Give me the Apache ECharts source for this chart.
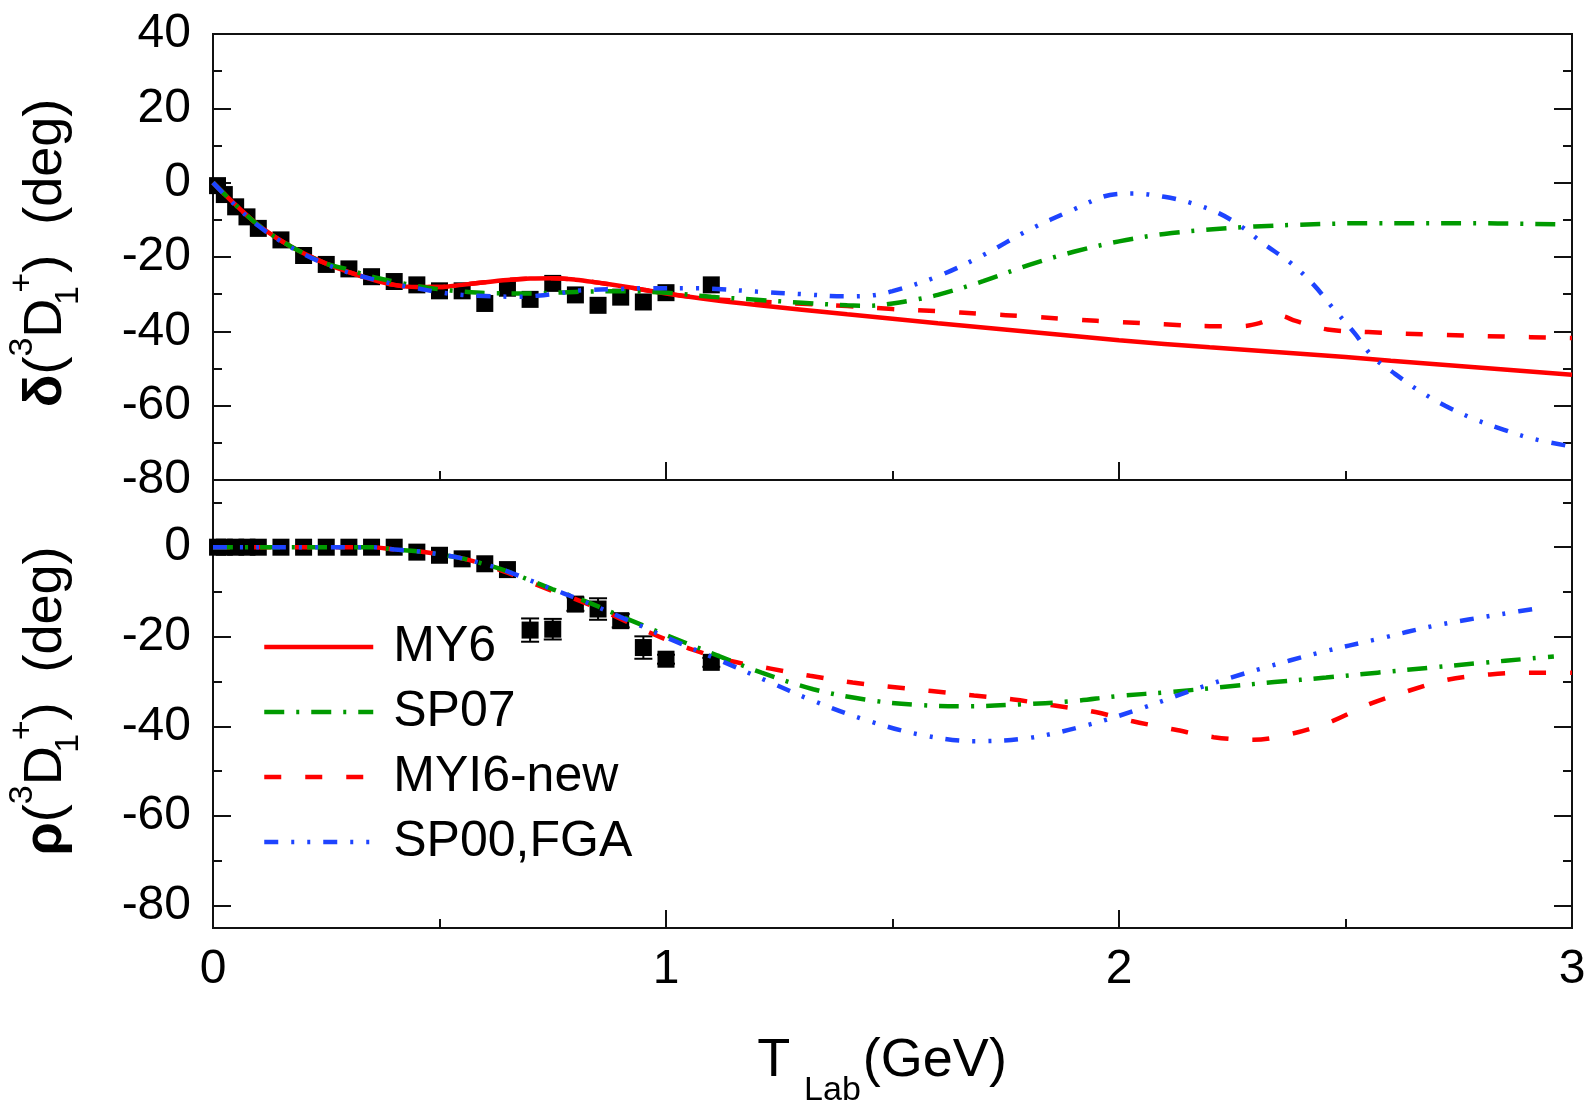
<!DOCTYPE html>
<html><head><meta charset="utf-8">
<script src="https://cdn.jsdelivr.net/npm/echarts@6/dist/echarts.min.js"></script>
<style>html,body{margin:0;padding:0;background:#fff}#c{width:1592px;height:1105px}</style>
</head><body><div id="c"></div>
<script>
const FONT = '"Liberation Sans", Arial, sans-serif';

// ---- axis ticks ----
const xTickLabels = [0, 1, 2, 3];
const topYTicks = [40, 20, 0, -20, -40, -60, -80];
const botYMajor = [0, -20, -40, -60, -80];
const botYMinor = [10, -10, -30, -50, -70];

// ---- experimental points ----
const dataX = [0.01,0.025,0.05,0.075,0.1,0.15,0.2,0.25,0.3,0.35,0.4,0.45,0.5,0.55,0.6,0.65,0.7,0.75,0.8,0.85,0.9,0.95,1.0,1.1];
const topDataY = [-0.8,-3.2,-6.5,-9.2,-12.3,-15.4,-19.6,-22.0,-23.2,-25.3,-26.6,-27.5,-29.1,-29.1,-32.5,-28.4,-31.4,-27.1,-30.2,-33.0,-30.8,-32.1,-29.6,-27.5];
const botDataY = [0,0,0,0,0,0,0,0,0,0,0,-1.1,-1.8,-2.6,-3.7,-5.0,-18.5,-18.3,-12.7,-13.8,-16.4,-22.4,-25.0,-25.7];
const botDataErr = [0,0,0,0,0,0,0,0,0,0,0,0,0,0,0,0,2.6,2.3,1.5,2.4,1.5,2.5,1.0,1.0];

// ---- top panel: delta ----
const my6Top = [[0,0],[0.05,-6],[0.1,-11.4],[0.15,-15.6],[0.2,-19],[0.25,-21.8],[0.3,-24.1],[0.35,-26],[0.4,-27.5],[0.45,-28.1],[0.5,-28.1],[0.55,-27.5],[0.6,-26.8],[0.65,-26.2],[0.7,-25.8],[0.75,-25.7],[0.8,-26.1],[0.85,-26.9],[0.9,-27.8],[0.95,-28.8],[1.0,-29.8],[1.1,-31.5],[1.2,-32.9],[1.4,-35.4],[1.6,-37.8],[1.8,-40.1],[2.0,-42.4],[2.2,-44.3],[2.4,-46],[2.6,-47.9],[2.8,-49.8],[3.0,-51.7]];
const sp07Top = [[0,0],[0.05,-6],[0.1,-11.4],[0.15,-15.6],[0.2,-19],[0.25,-21.8],[0.3,-23.4],[0.35,-25.3],[0.4,-26.6],[0.45,-27.8],[0.5,-28.7],[0.55,-29.3],[0.6,-29.7],[0.7,-29.8],[0.8,-29.4],[0.9,-29.2],[1.0,-29.6],[1.1,-30.7],[1.2,-31.5],[1.3,-32.3],[1.4,-33],[1.45,-33.1],[1.5,-32.5],[1.55,-31.5],[1.6,-30.2],[1.7,-26.5],[1.8,-22.2],[1.9,-18.6],[2.0,-15.8],[2.1,-13.8],[2.2,-12.6],[2.3,-11.8],[2.4,-11.3],[2.55,-10.9],[2.75,-10.9],[2.97,-11.2]];
const myi6Top = [[0,0],[0.05,-6],[0.1,-11.4],[0.15,-15.6],[0.2,-19],[0.25,-21.8],[0.3,-24.1],[0.35,-26],[0.4,-27.5],[0.45,-28.1],[0.5,-28.1],[0.55,-27.5],[0.6,-26.8],[0.65,-26.2],[0.7,-25.8],[0.75,-25.7],[0.8,-26.1],[0.85,-26.9],[0.9,-27.8],[0.95,-28.8],[1.0,-29.8],[1.1,-31.3],[1.2,-32],[1.3,-32.6],[1.4,-33.2],[1.5,-34],[1.6,-34.6],[1.7,-35.3],[1.8,-36],[1.9,-36.8],[2.0,-37.5],[2.1,-38.1],[2.2,-38.6],[2.27,-38.6],[2.31,-37.8],[2.355,-35.8],[2.39,-37.2],[2.46,-39.5],[2.55,-40.2],[2.7,-40.9],[2.85,-41.4],[3.0,-41.8]];
const sp00Top = [[0,0],[0.05,-6.2],[0.1,-11.6],[0.15,-15.8],[0.2,-19.2],[0.25,-22],[0.3,-24.2],[0.35,-25.9],[0.4,-27.3],[0.45,-28.4],[0.5,-29.5],[0.55,-30.2],[0.6,-30.5],[0.67,-30.7],[0.75,-30],[0.81,-29],[0.9,-28.6],[0.95,-28.4],[1.07,-28.4],[1.1,-28.5],[1.2,-29.3],[1.3,-30],[1.4,-30.6],[1.45,-30.4],[1.5,-29.2],[1.6,-25.2],[1.7,-19.5],[1.8,-12.8],[1.9,-7.2],[1.98,-3.3],[2.03,-2.9],[2.1,-3.8],[2.16,-5.5],[2.22,-8.2],[2.27,-11.8],[2.32,-16.5],[2.38,-21.7],[2.43,-27.5],[2.47,-33.4],[2.52,-40.5],[2.56,-46.8],[2.61,-51.5],[2.66,-55.8],[2.72,-60],[2.78,-63.4],[2.85,-66.5],[2.91,-68.8],[2.99,-70.8]];

// ---- bottom panel: rho ----
const sp07Bot = [[0,0],[0.1,0],[0.2,0],[0.3,0],[0.35,0],[0.4,-0.5],[0.45,-0.9],[0.5,-1.6],[0.55,-2.5],[0.6,-3.8],[0.65,-5.4],[0.7,-7.4],[0.75,-9.4],[0.8,-11.2],[0.85,-13.2],[0.9,-15.4],[0.95,-17.5],[1.0,-19.6],[1.117,-24.3],[1.211,-28],[1.325,-31.7],[1.439,-34],[1.553,-35.2],[1.667,-35.5],[1.78,-35.1],[1.894,-34.4],[2.0,-33.2],[2.116,-32.3],[2.229,-31.2],[2.343,-30.1],[2.457,-29.1],[2.571,-28],[2.685,-26.9],[2.792,-25.9],[2.913,-24.8],[2.96,-24.4]];
const myi6Bot = [[0,0],[0.1,0],[0.2,0],[0.3,0],[0.35,0],[0.4,-0.5],[0.45,-0.9],[0.5,-1.6],[0.55,-2.5],[0.6,-3.9],[0.65,-5.7],[0.7,-7.8],[0.75,-9.8],[0.8,-11.6],[0.85,-13.7],[0.9,-16.0],[0.95,-18.4],[1.0,-20.6],[1.057,-22.8],[1.143,-25.4],[1.231,-27.1],[1.318,-28.7],[1.412,-30.2],[1.5,-31.2],[1.586,-32.1],[1.68,-33.1],[1.767,-34],[1.854,-35.3],[1.948,-36.8],[2.028,-38.8],[2.122,-40.7],[2.209,-42.4],[2.296,-43],[2.383,-41.6],[2.471,-38.8],[2.551,-35.1],[2.638,-32.1],[2.725,-29.6],[2.819,-28.4],[2.906,-28],[3.0,-28]];
const sp00Bot = [[0,0],[0.1,0],[0.2,0],[0.3,0],[0.35,0],[0.4,-0.5],[0.45,-0.9],[0.5,-1.6],[0.55,-2.5],[0.6,-3.8],[0.65,-5.4],[0.7,-7.4],[0.75,-9.4],[0.8,-11.3],[0.85,-13.4],[0.9,-15.6],[0.95,-17.8],[1.0,-20.1],[1.104,-24.6],[1.224,-29.9],[1.318,-34],[1.439,-38.5],[1.559,-41.8],[1.68,-43.3],[1.8,-42.6],[1.934,-39.6],[2.055,-35.8],[2.176,-31.4],[2.31,-27.2],[2.444,-23.5],[2.571,-20.5],[2.698,-17.5],[2.846,-14.9],[2.94,-13.4]];

const RED = '#ff0000', GREEN = '#009a00', BLUE = '#1e44ff';
const LW = 4.5;
const styles = {
  'MY6': {color: RED, type: 'solid'},
  'SP07': {color: GREEN, type: [20, 12, 3, 12]},
  'MYI6-new': {color: RED, type: [17, 24]},
  'SP00,FGA': {color: BLUE, type: [14, 13, 3, 13, 3, 13]}
};
function lineSeries(name, data, xi, yi, z) {
  return {
    name, type: 'line', data, xAxisIndex: xi, yAxisIndex: yi, z,
    smooth: 0.35, symbol: 'none', showSymbol: false, animation: false,
    lineStyle: {color: styles[name].color, width: LW, type: styles[name].type, cap: 'butt', opacity: 1},
    itemStyle: {color: styles[name].color}
  };
}

const titleRich = {
  m: {fontSize: 54, fontFamily: FONT, color: '#000', lineHeight: 80},
  g: {fontSize: 54, fontFamily: FONT, color: '#000', lineHeight: 80, fontWeight: 'bold'},
  sup: {fontSize: 34, fontFamily: FONT, color: '#000', lineHeight: 22, verticalAlign: 'top'},
  sub1: {fontSize: 34, fontFamily: FONT, color: '#000', lineHeight: 22, verticalAlign: 'bottom', width: 6},
  sup2: {fontSize: 34, fontFamily: FONT, color: '#000', lineHeight: 22, verticalAlign: 'top'}
};

const tickLabel = {fontSize: 48, fontFamily: FONT, color: '#000'};
const tickLine = {color: '#111', width: 2};

function xAxisBase(gridIndex) {
  return {gridIndex, type: 'value', min: 0, max: 3, interval: 1, position: 'bottom',
    axisLine: {show: false, onZero: false}, splitLine: {show: false},
    axisTick: {show: true, inside: true, length: 18, lineStyle: tickLine},
    minorTick: {show: true, splitNumber: 2, length: 9, lineStyle: tickLine}};
}
function yBot(position, ticks, len, label) {
  return {gridIndex: 1, type: 'value', min: -85, max: 15, position,
    axisLine: {show: false, onZero: false}, splitLine: {show: false},
    axisLabel: label ? Object.assign({margin: 22, customValues: ticks}, tickLabel) : {show: false},
    axisTick: {show: true, inside: true, length: len, customValues: ticks, lineStyle: tickLine}};
}

const option = {
  animation: false,
  backgroundColor: '#fff',
  grid: [
    {left: 213, top: 34, width: 1359, height: 446, show: true, borderColor: '#111', borderWidth: 2, backgroundColor: 'transparent', outerBoundsMode: 'none', containLabel: false},
    {left: 213, top: 480, width: 1359, height: 448, show: true, borderColor: '#111', borderWidth: 2, backgroundColor: 'transparent', outerBoundsMode: 'none', containLabel: false}
  ],
  legend: {
    orient: 'vertical', left: 262, top: 622, padding: 0,
    itemWidth: 109, itemHeight: 14, itemGap: 15,
    data: ['MY6', 'SP07', 'MYI6-new', 'SP00,FGA'],
    textStyle: {fontSize: 50, fontFamily: FONT, color: '#000', lineHeight: 50, padding: [0, 0, 0, 15]},
    lineStyle: {width: LW},
    itemStyle: {opacity: 0, borderWidth: 0},
    selectedMode: false
  },
  xAxis: [
    Object.assign(xAxisBase(0), {axisLabel: {show: false}}),
    Object.assign(xAxisBase(1), {
      axisLabel: Object.assign({margin: 18, formatter: v => xTickLabels.includes(v) ? String(v) : ''}, tickLabel),
      name: '{t|T}{s|Lab}{t|(GeV)}', nameLocation: 'middle', nameGap: 86,
      nameTextStyle: {padding: [0, 21, 0, 0], rich: {
        t: {fontSize: 54, fontFamily: FONT, color: '#000', lineHeight: 94},
        s: {fontSize: 34, fontFamily: FONT, color: '#000', lineHeight: 20, verticalAlign: 'bottom', padding: [0, 2, 0, 14]}
      }}})
  ],
  yAxis: [
    {gridIndex: 0, type: 'value', min: -80, max: 40, interval: 20, position: 'left',
     axisLine: {show: false, onZero: false}, splitLine: {show: false},
     axisLabel: Object.assign({margin: 22, formatter: v => topYTicks.includes(v) ? String(v) : ''}, tickLabel),
     axisTick: {show: true, inside: true, length: 18, lineStyle: tickLine},
     minorTick: {show: true, splitNumber: 2, length: 9, lineStyle: tickLine},
     name: '{g|δ}{m|(}{sup|3}{m|D}{sub1|1}{sup2|+}{m|)  (deg)}', nameLocation: 'middle', nameRotate: 90, nameGap: 127,
     nameTextStyle: {padding: [0, 0, 0, 8], rich: titleRich}},
    {gridIndex: 0, type: 'value', min: -80, max: 40, interval: 20, position: 'right',
     axisLine: {show: false, onZero: false}, splitLine: {show: false}, axisLabel: {show: false},
     axisTick: {show: true, inside: true, length: 18, lineStyle: tickLine},
     minorTick: {show: true, splitNumber: 2, length: 9, lineStyle: tickLine}},
    Object.assign(yBot('left', botYMajor, 18, true), {
     name: '{g|ρ}{m|(}{sup|3}{m|D}{sub1|1}{sup2|+}{m|)  (deg)}', nameLocation: 'middle', nameRotate: 90, nameGap: 127,
     nameTextStyle: {padding: [0, 0, 0, 6], rich: titleRich}}),
    yBot('left', botYMinor, 9, false),
    yBot('right', botYMajor, 18, false),
    yBot('right', botYMinor, 9, false)
  ],
  series: [
    {name: 'dataTop', type: 'scatter', xAxisIndex: 0, yAxisIndex: 0, z: 2,
     symbol: 'rect', symbolSize: 17, itemStyle: {color: '#000', opacity: 1},
     data: dataX.map((x, i) => [x, topDataY[i]])},
    lineSeries('MY6', my6Top, 0, 0, 3),
    lineSeries('MYI6-new', myi6Top, 0, 0, 4),
    lineSeries('SP07', sp07Top, 0, 0, 5),
    lineSeries('SP00,FGA', sp00Top, 0, 0, 6),
    {name: 'errBot', type: 'custom', xAxisIndex: 1, yAxisIndex: 2, z: 2,
     encode: {x: 0, y: 1},
     data: dataX.map((x, i) => [x, botDataY[i], botDataErr[i]]),
     renderItem: function (params, api) {
       const x = api.value(0), y = api.value(1), e = api.value(2);
       if (!e) return null;
       const t = api.coord([x, y + e]), b = api.coord([x, y - e]);
       const hw = 9, st = {stroke: '#000', lineWidth: 2};
       return {type: 'group', children: [
         {type: 'line', shape: {x1: t[0], y1: t[1], x2: b[0], y2: b[1]}, style: st},
         {type: 'line', shape: {x1: t[0] - hw, y1: t[1], x2: t[0] + hw, y2: t[1]}, style: st},
         {type: 'line', shape: {x1: b[0] - hw, y1: b[1], x2: b[0] + hw, y2: b[1]}, style: st}
       ]};
     }},
    {name: 'dataBot', type: 'scatter', xAxisIndex: 1, yAxisIndex: 2, z: 2,
     symbol: 'rect', symbolSize: 17, itemStyle: {color: '#000', opacity: 1},
     data: dataX.map((x, i) => [x, botDataY[i]])},
    lineSeries('MYI6-new', myi6Bot, 1, 2, 4),
    lineSeries('SP07', sp07Bot, 1, 2, 5),
    lineSeries('SP00,FGA', sp00Bot, 1, 2, 6)
  ]
};

const chart = echarts.init(document.getElementById('c'), null, {renderer: 'canvas'});
chart.setOption(option);
</script>
</body></html>
